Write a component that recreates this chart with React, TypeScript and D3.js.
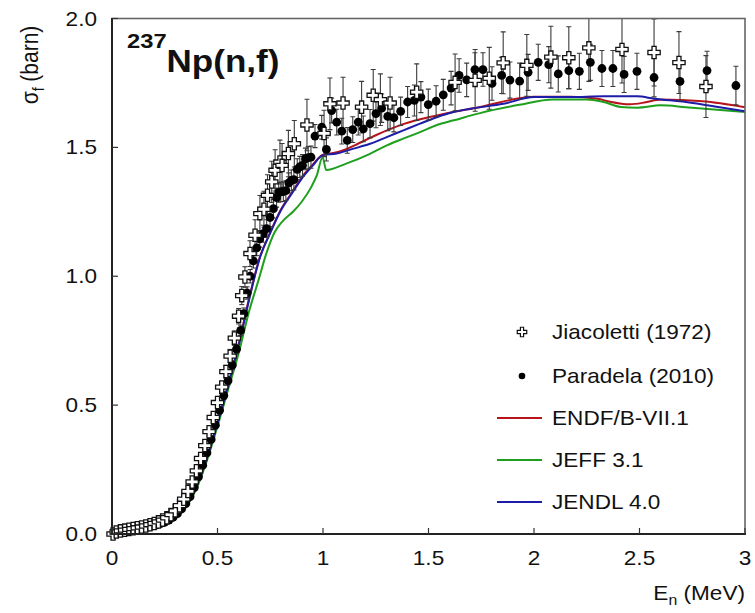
import React from "react";
import * as d3 from "d3";

// [E (MeV), sigma (barn), error]
const paradela: [number, number, number][] = [
  [0.01,0.004,0.002],[0.03,0.008,0.002],[0.05,0.011,0.002],[0.07,0.013,0.002],[0.09,0.015,0.002],
  [0.11,0.018,0.002],[0.13,0.021,0.002],[0.15,0.024,0.003],[0.17,0.027,0.003],[0.19,0.031,0.003],
  [0.21,0.035,0.003],[0.23,0.04,0.003],[0.25,0.046,0.003],[0.27,0.054,0.004],[0.29,0.065,0.004],
  [0.31,0.079,0.005],[0.33,0.097,0.005],[0.35,0.118,0.006],[0.37,0.145,0.007],[0.39,0.18,0.008],
  [0.41,0.222,0.009],[0.43,0.267,0.01],[0.45,0.315,0.011],[0.47,0.367,0.012],[0.49,0.422,0.013],
  [0.51,0.48,0.014],[0.53,0.537,0.015],[0.55,0.595,0.016],[0.57,0.655,0.017],[0.59,0.717,0.018],
  [0.61,0.79,0.02],[0.625,0.855,0.022],[0.64,0.935,0.024],[0.655,1.0,0.026],[0.67,1.06,0.028],
  [0.686,1.11,0.03],[0.70,1.145,0.032],[0.717,1.165,0.033],[0.733,1.185,0.034],[0.749,1.228,0.035],
  [0.765,1.262,0.036],[0.78,1.305,0.037],[0.79,1.325,0.038],[0.80,1.327,0.038],[0.812,1.328,0.038],
  [0.824,1.332,0.038],[0.838,1.362,0.039],[0.85,1.372,0.04],[0.862,1.375,0.04],[0.878,1.415,0.041],
  [0.89,1.424,0.041],[0.903,1.43,0.042],[0.917,1.455,0.042],[0.93,1.46,0.043],[0.943,1.462,0.043],
  [0.962,1.544,0.045],[0.994,1.578,0.046],[1.016,1.492,0.045],[1.041,1.643,0.048],
  [1.065,1.598,0.05],[1.089,1.563,0.05],[1.115,1.527,0.05],[1.141,1.569,0.05],[1.167,1.598,0.05],
  [1.191,1.572,0.05],[1.223,1.592,0.055],[1.251,1.631,0.055],[1.278,1.652,0.055],[1.307,1.62,0.055],
  [1.336,1.615,0.055],[1.368,1.64,0.055],[1.401,1.676,0.06],[1.433,1.682,0.06],[1.464,1.695,0.06],
  [1.499,1.666,0.06],[1.536,1.679,0.06],[1.57,1.704,0.06],[1.607,1.73,0.065],[1.645,1.779,0.065],
  [1.681,1.762,0.065],[1.72,1.802,0.065],[1.758,1.802,0.065],[1.801,1.748,0.065],[1.847,1.779,0.07],
  [1.886,1.761,0.07],[1.932,1.757,0.07],[1.972,1.791,0.07],[2.02,1.83,0.07],[2.07,1.821,0.07],
  [2.115,1.785,0.07],[2.165,1.798,0.07],[2.215,1.795,0.07],[2.267,1.83,0.07],[2.322,1.806,0.07],
  [2.374,1.806,0.07],[2.427,1.783,0.07],[2.488,1.795,0.07],[2.569,1.771,0.075],[2.692,1.756,0.075],
  [2.82,1.798,0.075],[2.957,1.74,0.075],
];

const jiacoletti: [number, number, number][] = [
  [0.005,0.0,0.005],[0.02,0.008,0.003],[0.04,0.012,0.003],[0.06,0.015,0.003],[0.08,0.018,0.003],
  [0.10,0.021,0.003],[0.12,0.024,0.003],[0.14,0.027,0.003],[0.16,0.031,0.003],[0.18,0.036,0.004],
  [0.20,0.041,0.004],[0.22,0.047,0.004],[0.24,0.054,0.005],[0.26,0.063,0.005],[0.28,0.075,0.006],
  [0.30,0.09,0.006],[0.32,0.11,0.007],[0.34,0.135,0.008],[0.36,0.165,0.009],[0.38,0.202,0.01],
  [0.40,0.245,0.012],[0.42,0.293,0.013],[0.44,0.343,0.015],[0.46,0.397,0.016],[0.48,0.452,0.018],
  [0.50,0.51,0.02],[0.52,0.57,0.022],[0.54,0.63,0.024],[0.56,0.69,0.026],[0.58,0.76,0.028],
  [0.60,0.845,0.03],[0.615,0.925,0.035],[0.63,0.997,0.04],[0.654,1.088,0.05],[0.678,1.159,0.06],
  [0.701,1.243,0.07],[0.72,1.26,0.07],[0.737,1.314,0.08],[0.757,1.366,0.08],[0.773,1.411,0.08],
  [0.796,1.443,0.085],[0.806,1.43,0.085],[0.836,1.476,0.09],[0.864,1.514,0.09],[0.924,1.587,0.1],
  [1.005,1.554,0.09],[1.033,1.669,0.1],[1.095,1.672,0.1],[1.183,1.656,0.1],[1.238,1.702,0.1],
  [1.272,1.685,0.1],[1.318,1.672,0.1],[1.444,1.714,0.11],[1.626,1.752,0.11],[1.721,1.76,0.12],
  [1.788,1.768,0.12],[1.854,1.828,0.12],[1.966,1.818,0.12],[2.08,1.85,0.12],[2.165,1.848,0.12],
  [2.26,1.886,0.13],[2.417,1.88,0.13],[2.569,1.868,0.13],[2.687,1.829,0.12],[2.815,1.736,0.12],
];

const endf: [number, number][] = [
  [0,0],[0.1,0.015],[0.2,0.03],[0.25,0.043],[0.3,0.068],[0.35,0.112],[0.4,0.185],[0.45,0.295],
  [0.5,0.432],[0.55,0.578],[0.6,0.735],[0.65,0.915],[0.7,1.072],[0.75,1.17],[0.8,1.258],[0.85,1.322],
  [0.9,1.385],[0.95,1.432],[1.0,1.472],[1.05,1.478],[1.1,1.49],[1.15,1.508],[1.25,1.547],[1.38,1.59],
  [1.54,1.624],[1.74,1.656],[2.0,1.696],[2.17,1.696],[2.3,1.689],[2.36,1.677],[2.455,1.667],
  [2.53,1.675],[2.6,1.686],[2.8,1.679],[3.0,1.656],
];

const jeff: [number, number][] = [
  [0,0],[0.1,0.013],[0.2,0.028],[0.25,0.04],[0.3,0.063],[0.35,0.103],[0.4,0.175],[0.45,0.285],
  [0.5,0.418],[0.55,0.56],[0.6,0.7],[0.65,0.865],[0.694,0.984],[0.73,1.085],[0.77,1.17],[0.81,1.215],
  [0.86,1.252],[0.9,1.29],[0.94,1.34],[0.97,1.39],[0.998,1.462],[1.015,1.412],[1.11,1.437],
  [1.22,1.474],[1.3,1.507],[1.38,1.534],[1.46,1.559],[1.54,1.587],[1.62,1.605],[1.74,1.632],
  [1.93,1.665],[2.09,1.686],[2.25,1.686],[2.33,1.676],[2.41,1.657],[2.49,1.654],[2.6,1.663],
  [2.72,1.656],[3.0,1.637],
];

const jendl: [number, number][] = [
  [0,0],[0.1,0.015],[0.2,0.03],[0.25,0.043],[0.3,0.068],[0.35,0.112],[0.4,0.185],[0.45,0.295],
  [0.5,0.43],[0.55,0.575],[0.6,0.73],[0.65,0.91],[0.7,1.07],[0.75,1.168],[0.8,1.255],[0.85,1.318],
  [0.9,1.38],[0.95,1.428],[1.0,1.47],[1.065,1.476],[1.144,1.495],[1.223,1.514],[1.302,1.54],
  [1.381,1.566],[1.46,1.592],[1.539,1.617],[1.618,1.637],[1.7,1.65],[1.855,1.669],[2.0,1.695],
  [2.17,1.695],[2.33,1.698],[2.49,1.698],[2.57,1.689],[2.72,1.676],[2.88,1.656],[3.0,1.64],
];

const xTicks = [0, 0.5, 1, 1.5, 2, 2.5, 3];
const xTickLabels = ["0", "0.5", "1", "1.5", "2", "2.5", "3"];
const yTicks = [0, 0.5, 1.0, 1.5, 2.0];
const yTickLabels = ["0.0", "0.5", "1.0", "1.5", "2.0"];

const seriesLines = [
  { name: "ENDF/B-VII.1", color: "#b8141c", data: endf },
  { name: "JEFF 3.1", color: "#1ea01e", data: jeff },
  { name: "JENDL 4.0", color: "#1c1ca8", data: jendl },
];

const FONT = "'Liberation Sans', Arial, Helvetica, sans-serif";
const SX = 1.13;

function T(props: { x: number; y: number; size: number; anchor?: string; bold?: boolean; rotate?: number; children: React.ReactNode }) {
  const { x, y, size, anchor = "start", bold = false, rotate = 0, children } = props;
  return (
    <text
      transform={`translate(${x},${y}) scale(${SX},1)${rotate ? ` rotate(${rotate})` : ""}`}
      fontFamily={FONT}
      fontSize={size}
      fontWeight={bold ? "bold" : "normal"}
      textAnchor={anchor}
      fill="#111"
    >
      {children}
    </text>
  );
}

export default function App() {
  const W = 755, H = 613;
  const x = d3.scaleLinear().domain([0, 3]).range([112, 745]);
  const y = d3.scaleLinear().domain([0, 2]).range([534, 18.5]);
  const line = d3
    .line<[number, number]>()
    .x((d) => x(d[0]))
    .y((d) => y(d[1]))
    .curve(d3.curveMonotoneX);
  const cross = d3.symbol().type(d3.symbolCross).size(84)() as string;
  const crossLeg = d3.symbol().type(d3.symbolCross).size(50)() as string;

  const errBar = (d: [number, number, number], i: number, key: string) => {
    const cx = x(d[0]);
    const y1 = y(d[1] + d[2]);
    const y2 = y(Math.max(0, d[1] - d[2]));
    return (
      <g key={key + i} stroke="#3a3a3a" strokeWidth={1.1}>
        <line x1={cx} x2={cx} y1={y1} y2={y2} />
        <line x1={cx - 2.5} x2={cx + 2.5} y1={y1} y2={y1} />
        <line x1={cx - 2.5} x2={cx + 2.5} y1={y2} y2={y2} />
      </g>
    );
  };

  const legendRows = [332, 376, 418, 460, 502];

  return (
    <svg width={W} height={H} style={{ display: "block", position: "absolute", left: 0, top: 0 }}>
      <rect x={0} y={0} width={W} height={H} fill="#fff" />
      <defs>
        <clipPath id="plotclip">
          <rect x={112} y={18.5} width={633} height={515.5} />
        </clipPath>
      </defs>

      {/* evaluated curves */}
      <g clipPath="url(#plotclip)">
        {seriesLines.map((s) => (
          <path key={s.name} d={line(s.data) || ""} fill="none" stroke={s.color} strokeWidth={2} strokeLinejoin="round" />
        ))}
      </g>

      {/* error bars */}
      <g clipPath="url(#plotclip)">
        {paradela.map((d, i) => errBar(d, i, "pe"))}
        {jiacoletti.map((d, i) => errBar(d, i, "je"))}
      </g>

      {/* Paradela points */}
      <g>
        {paradela.map((d, i) => (
          <circle key={"p" + i} cx={x(d[0])} cy={y(d[1])} r={4.4} fill="#000" />
        ))}
      </g>
      {/* Jiacoletti points */}
      <g>
        {jiacoletti.map((d, i) => (
          <path key={"j" + i} d={cross} transform={`translate(${x(d[0])},${y(d[1])})`} fill="#fff" stroke="#111" strokeWidth={1.3} />
        ))}
      </g>

      {/* frame */}
      <rect x={112} y={18.5} width={633} height={515.5} fill="none" stroke="#666" strokeWidth={1.6} />
      <line x1={112} x2={112} y1={18} y2={535} stroke="#222" strokeWidth={2} />
      <line x1={111} x2={746} y1={534} y2={534} stroke="#222" strokeWidth={2} />

      {/* ticks */}
      {xTicks.map((t, i) => (
        <g key={"xt" + i}>
          <line x1={x(t)} x2={x(t)} y1={534} y2={528} stroke="#333" strokeWidth={1.2} />
          <T x={x(t)} y={565} size={20} anchor="middle">{xTickLabels[i]}</T>
        </g>
      ))}
      {yTicks.map((t, i) => (
        <g key={"yt" + i}>
          <line x1={112} x2={118} y1={y(t)} y2={y(t)} stroke="#333" strokeWidth={1.2} />
          <T x={97} y={y(t) + 7} size={20} anchor="end">{yTickLabels[i]}</T>
        </g>
      ))}

      {/* axis labels */}
      <T x={745} y={600} size={20} anchor="end">
        E<tspan fontSize={14} dy={5}>n</tspan><tspan dy={-5}> (MeV)</tspan>
      </T>
      <T x={38} y={65} size={21} anchor="middle" rotate={-90}>
        σ<tspan fontSize={14} dy={5}>f</tspan><tspan dy={-5}> (barn)</tspan>
      </T>

      {/* title */}
      <T x={127} y={72} size={31} bold>
        <tspan fontSize={21} dy={-24}>237</tspan><tspan dy={24}>Np(n,f)</tspan>
      </T>

      {/* legend */}
      <path d={crossLeg} transform={`translate(522,${legendRows[0]})`} fill="#fff" stroke="#111" strokeWidth={1.2} />
      <circle cx={522} cy={legendRows[1]} r={3.3} fill="#000" />
      {seriesLines.map((s, i) => (
        <line key={"ll" + i} x1={497} x2={542} y1={legendRows[i + 2]} y2={legendRows[i + 2]} stroke={s.color} strokeWidth={2} />
      ))}
      {["Jiacoletti (1972)", "Paradela (2010)", ...seriesLines.map((s) => s.name)].map((name, i) => (
        <T key={"lt" + i} x={552} y={legendRows[i] + 7} size={20}>{name}</T>
      ))}
    </svg>
  );
}
